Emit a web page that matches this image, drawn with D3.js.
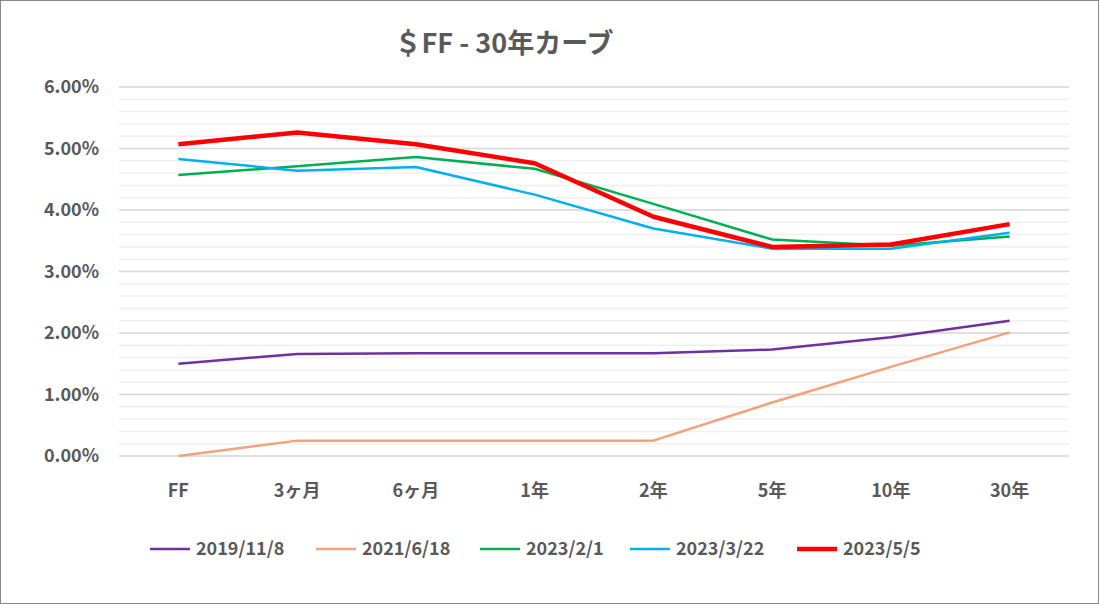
<!DOCTYPE html>
<html><head><meta charset="utf-8">
<script src="https://cdn.jsdelivr.net/npm/d3@7"></script>
<style>body{margin:0;background:#fff}text{font-family:"Noto Sans CJK JP","Noto Sans",sans-serif}</style>
</head><body>
<svg id="c" width="1099" height="604"></svg>
<script>
var categories = ["FF", "3ヶ月", "6ヶ月", "1年", "2年", "5年", "10年", "30年"];
var seriesNames = ["2019/11/8", "2021/6/18", "2023/2/1", "2023/3/22", "2023/5/5"];
var s2019 = [1.50, 1.66, 1.67, 1.67, 1.67, 1.73, 1.93, 2.20];
var s2021 = [0.00, 0.25, 0.25, 0.25, 0.25, 0.87, 1.45, 2.01];
var s2023a = [4.57, 4.71, 4.86, 4.67, 4.10, 3.52, 3.42, 3.57];
var s2023b = [4.83, 4.64, 4.70, 4.25, 3.70, 3.37, 3.37, 3.63];
var s2023c = [5.07, 5.26, 5.07, 4.76, 3.89, 3.40, 3.44, 3.77];
var yTicks = [0, 1, 2, 3, 4, 5, 6];

var series = [s2019, s2021, s2023a, s2023b, s2023c];
var colors = ["#7030a0", "#f4a27c", "#00b050", "#00b0f0", "#ff0000"];
var widths = [2.5, 2.5, 2.5, 2.5, 4.5];

var svg = d3.select("#c");
svg.append("rect").attr("x", 0.5).attr("y", 0.5).attr("width", 1098).attr("height", 603)
  .attr("fill", "#fff").attr("stroke", "#888");

var x = d3.scaleBand().domain(categories).range([119, 1069]);
var y = d3.scaleLinear().domain([0, 6]).range([456, 87]);

// gridlines
var g = svg.append("g");
g.selectAll(".minor").data(d3.range(0, 6.01, 0.2)).join("line")
  .attr("x1", 119).attr("x2", 1069).attr("y1", d => y(d)).attr("y2", d => y(d))
  .attr("stroke", "#f0f0f0").attr("stroke-width", 1.5);
g.selectAll(".major").data(yTicks).join("line")
  .attr("x1", 119).attr("x2", 1069).attr("y1", d => y(d)).attr("y2", d => y(d))
  .attr("stroke", "#d9d9d9").attr("stroke-width", 1.5);

svg.selectAll(".yl").data(yTicks).join("text")
  .attr("x", 99).attr("y", d => y(d) + 6).attr("text-anchor", "end")
  .attr("font-size", 18).attr("font-weight", "bold").attr("fill", "#595959")
  .text(d => d.toFixed(2) + "%");

svg.selectAll(".xl").data(categories).join("text")
  .attr("x", d => x(d) + x.bandwidth() / 2).attr("y", 497).attr("text-anchor", "middle")
  .attr("font-size", 18).attr("font-weight", "bold").attr("fill", "#595959")
  .text(d => d);

var line = d3.line().x((d, i) => x(categories[i]) + x.bandwidth() / 2).y(d => y(d));
svg.selectAll(".s").data(series).join("path")
  .attr("d", line).attr("fill", "none")
  .attr("stroke", (d, i) => colors[i]).attr("stroke-width", (d, i) => widths[i])
  .attr("stroke-linejoin", "round");

svg.append("text").attr("x", 504).attr("y", 53).attr("text-anchor", "middle")
  .attr("font-size", 27).attr("font-weight", "bold").attr("fill", "#595959")
  .text("＄FF - 30年カーブ");

// legend
var legX = [150, 316, 480, 630, 797];
var lg = svg.selectAll(".lg").data(seriesNames).join("g")
  .attr("transform", (d, i) => "translate(" + legX[i] + ",549)");
lg.append("line").attr("x1", 0).attr("x2", 40)
  .attr("stroke", (d, i) => colors[i]).attr("stroke-width", (d, i) => widths[i]);
lg.append("text").attr("x", 46).attr("y", 6).attr("font-size", 18).attr("font-weight", "bold")
  .attr("fill", "#595959").text(d => d);
</script>
</body></html>
